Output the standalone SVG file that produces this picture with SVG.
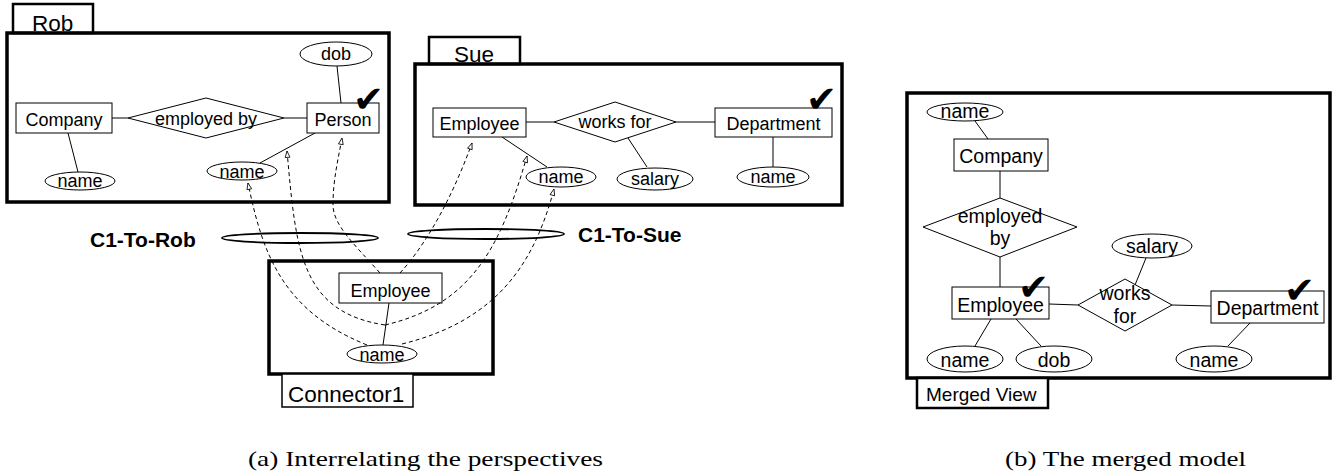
<svg xmlns="http://www.w3.org/2000/svg" width="1340" height="472" viewBox="0 0 1340 472">
<style>
text{font-family:"Liberation Sans",Arial,sans-serif;fill:#000}
.t18{font-size:18px}
.t20{font-size:19.5px}
.tab{font-size:22.5px}
.lbl{font-size:21px;font-weight:bold}
.cap{font-family:"Liberation Serif","Times New Roman",serif;font-size:22px}
.chk{font-family:"DejaVu Sans",sans-serif;font-size:37px}
.frame{fill:none;stroke:#000;stroke-width:3.5}
.tabr{fill:#fff;stroke:#000;stroke-width:2.5}
.sh{fill:#fff;stroke:#000;stroke-width:1}
.ln{stroke:#000;stroke-width:1;fill:none}
.dash{stroke:#000;stroke-width:1;fill:none;stroke-dasharray:4 3;marker-end:url(#tri)}
.ce{fill:none;stroke:#000;stroke-width:1.8}
</style>
<defs>
<marker id="tri" viewBox="0 0 10 8" refX="9" refY="4" markerWidth="8" markerHeight="7" markerUnits="userSpaceOnUse" orient="auto">
<path d="M1,1 L9,4 L1,7 z" fill="#fff" stroke="#000" stroke-width="1"/>
</marker>
</defs>
<rect width="1340" height="472" fill="#fff"/>

<!-- Rob perspective -->
<g id="rob-frame">
<rect class="tabr" x="13" y="4" width="80" height="29"/>
<text class="tab" x="32" y="31">Rob</text>
<rect class="frame" x="7" y="33" width="382" height="169"/>
</g>
<g id="connectors">
<!-- Rob -->
<line class="ln" x1="112" y1="118" x2="128" y2="118"/>
<line class="ln" x1="284" y1="118" x2="307" y2="118"/>
<line class="ln" x1="337" y1="66" x2="341" y2="103"/>
<line class="ln" x1="68" y1="133" x2="78" y2="172"/>
<line class="ln" x1="260" y1="163" x2="315" y2="133"/>
<!-- Sue -->
<line class="ln" x1="526" y1="122" x2="554" y2="122"/>
<line class="ln" x1="676" y1="122" x2="715" y2="122"/>
<line class="ln" x1="628" y1="138" x2="647" y2="167"/>
<line class="ln" x1="502" y1="137" x2="547" y2="167"/>
<line class="ln" x1="773" y1="137" x2="773" y2="167"/>
<!-- Connector1 -->
<line class="ln" x1="389" y1="303" x2="383" y2="345"/>
<!-- Merged -->
<line class="ln" x1="975" y1="121" x2="988" y2="139"/>
<line class="ln" x1="1000" y1="171" x2="1000" y2="198"/>
<line class="ln" x1="1000" y1="257" x2="1000" y2="287"/>
<line class="ln" x1="1049" y1="304" x2="1078" y2="305"/>
<line class="ln" x1="1172" y1="305" x2="1211" y2="306"/>
<line class="ln" x1="1146" y1="258" x2="1135" y2="285"/>
<line class="ln" x1="991" y1="319" x2="975" y2="346"/>
<line class="ln" x1="1016" y1="319" x2="1041" y2="346"/>
<line class="ln" x1="1250" y1="323" x2="1228" y2="346"/>
</g>

<g id="rob-company">
<rect class="sh" x="16" y="103" width="96" height="30"/>
<text class="t18" x="64" y="126" text-anchor="middle">Company</text>
</g>
<g id="rob-employedby">
<polygon class="sh" points="128,118 206,98 284,118 206,138"/>
<text class="t18" x="206" y="125" text-anchor="middle">employed by</text>
</g>
<g id="rob-person">
<rect class="sh" x="307" y="103" width="72" height="30"/>
<text class="t18" x="343" y="126" text-anchor="middle">Person</text>
<text class="chk" x="353" y="112">✔</text>
</g>
<g id="rob-dob">
<ellipse class="sh" cx="336" cy="54" rx="36" ry="12"/>
<text class="t18" x="336" y="60" text-anchor="middle">dob</text>
</g>
<g id="rob-company-name">
<ellipse class="sh" cx="80" cy="181" rx="35" ry="9"/>
<text class="t18" x="80" y="187" text-anchor="middle">name</text>
</g>
<g id="rob-person-name">
<ellipse class="sh" cx="242" cy="171" rx="35" ry="9"/>
<text class="t18" x="242" y="178" text-anchor="middle">name</text>
</g>

<!-- Sue perspective -->
<g id="sue-frame">
<rect class="tabr" x="429" y="37" width="91" height="27"/>
<text class="tab" x="454" y="62">Sue</text>
<rect class="frame" x="415" y="64" width="427" height="141"/>
</g>
<g id="sue-employee">
<rect class="sh" x="433" y="108" width="93" height="29"/>
<text class="t18" x="479.5" y="130" text-anchor="middle">Employee</text>
</g>
<g id="sue-worksfor">
<polygon class="sh" points="554,122 615,102 676,122 615,142"/>
<text class="t18" x="615" y="128" text-anchor="middle">works for</text>
</g>
<g id="sue-department">
<rect class="sh" x="715" y="108" width="117" height="29"/>
<text class="t18" x="773.5" y="130" text-anchor="middle">Department</text>
<text class="chk" x="806" y="112">✔</text>
</g>
<g id="sue-employee-name">
<ellipse class="sh" cx="561" cy="177" rx="35" ry="10"/>
<text class="t18" x="561" y="183" text-anchor="middle">name</text>
</g>
<g id="sue-salary">
<ellipse class="sh" cx="655" cy="179" rx="38" ry="11"/>
<text class="t18" x="655" y="185" text-anchor="middle">salary</text>
</g>
<g id="sue-department-name">
<ellipse class="sh" cx="773" cy="177" rx="36" ry="10"/>
<text class="t18" x="773" y="183" text-anchor="middle">name</text>
</g>

<!-- C1 mappings -->
<g id="c1-to-rob">
<ellipse class="ce" cx="300" cy="238" rx="78" ry="5"/>
<text class="lbl" x="90" y="247">C1-To-Rob</text>
</g>
<g id="c1-to-sue">
<ellipse class="ce" cx="486" cy="234" rx="78" ry="5"/>
<text class="lbl" x="578" y="242">C1-To-Sue</text>
</g>

<!-- Connector1 -->
<g id="connector1-frame">
<rect class="frame" x="269" y="261" width="224" height="113"/>
<rect class="sh" x="282" y="374" width="131" height="33" style="stroke-width:1.5"/>
<text class="tab" x="288" y="402">Connector1</text>
</g>
<g id="c1-employee">
<rect class="sh" x="339" y="273" width="103" height="30"/>
<text class="t18" x="390.5" y="297" text-anchor="middle">Employee</text>
</g>
<g id="c1-name">
<ellipse class="sh" cx="382" cy="354" rx="35" ry="9"/>
<text class="t18" x="382" y="361" text-anchor="middle">name</text>
</g>

<g id="mapping-connectors">
<path class="dash" d="M367,345 C280,310 262,250 248,183"/>
<path class="dash" d="M385,325 C300,312 296,250 287,151"/>
<path class="dash" d="M380,273 C355,245 333,225 333,205 C333,180 338,160 342,138"/>
<path class="dash" d="M400,273 C430,240 455,190 472,143"/>
<path class="dash" d="M385,325 C470,305 500,250 527,156"/>
<path class="dash" d="M402,344 C500,320 535,260 554,189"/>
</g>

<!-- Merged view -->
<g id="merged-frame">
<rect class="frame" x="907" y="93" width="423" height="285"/>
<rect class="tabr" x="917" y="378" width="131" height="30"/>
<text class="t20" x="926" y="401" style="font-size:19px">Merged View</text>
</g>
<g id="m-company-name">
<ellipse class="sh" cx="965" cy="112" rx="38" ry="9"/>
<text class="t20" x="965" y="118" text-anchor="middle">name</text>
</g>
<g id="m-company">
<rect class="sh" x="954" y="139" width="94" height="32"/>
<text class="t20" x="1001" y="163" text-anchor="middle">Company</text>
</g>
<g id="m-employedby">
<polygon class="sh" points="923,227 1000,198 1077,227 1000,257"/>
<text class="t20" x="1000" y="223" text-anchor="middle">employed</text>
<text class="t20" x="1000" y="245" text-anchor="middle">by</text>
</g>
<g id="m-employee">
<rect class="sh" x="952" y="287" width="97" height="32"/>
<text class="t20" x="1000.5" y="312" text-anchor="middle">Employee</text>
<text class="chk" x="1018" y="300">✔</text>
</g>
<g id="m-worksfor">
<polygon class="sh" points="1078,305 1125,279 1172,305 1125,331"/>
<text class="t20" x="1125" y="300" text-anchor="middle">works</text>
<text class="t20" x="1125" y="323" text-anchor="middle">for</text>
</g>
<g id="m-salary">
<ellipse class="sh" cx="1152" cy="246" rx="40" ry="12"/>
<text class="t20" x="1152" y="253" text-anchor="middle">salary</text>
</g>
<g id="m-department">
<rect class="sh" x="1211" y="291" width="113" height="32"/>
<text class="t20" x="1267.5" y="315" text-anchor="middle">Department</text>
<text class="chk" x="1284" y="303">✔</text>
</g>
<g id="m-employee-name">
<ellipse class="sh" cx="965" cy="359" rx="38" ry="13"/>
<text class="t20" x="965" y="367" text-anchor="middle">name</text>
</g>
<g id="m-employee-dob">
<ellipse class="sh" cx="1054" cy="359" rx="38" ry="13"/>
<text class="t20" x="1054" y="367" text-anchor="middle">dob</text>
</g>
<g id="m-department-name">
<ellipse class="sh" cx="1214" cy="359" rx="38" ry="13"/>
<text class="t20" x="1214" y="367" text-anchor="middle">name</text>
</g>

<text class="cap" x="248" y="466" textLength="355" lengthAdjust="spacingAndGlyphs">(a) Interrelating the perspectives</text>
<text class="cap" x="1005" y="466" textLength="241" lengthAdjust="spacingAndGlyphs">(b) The merged model</text>
</svg>
